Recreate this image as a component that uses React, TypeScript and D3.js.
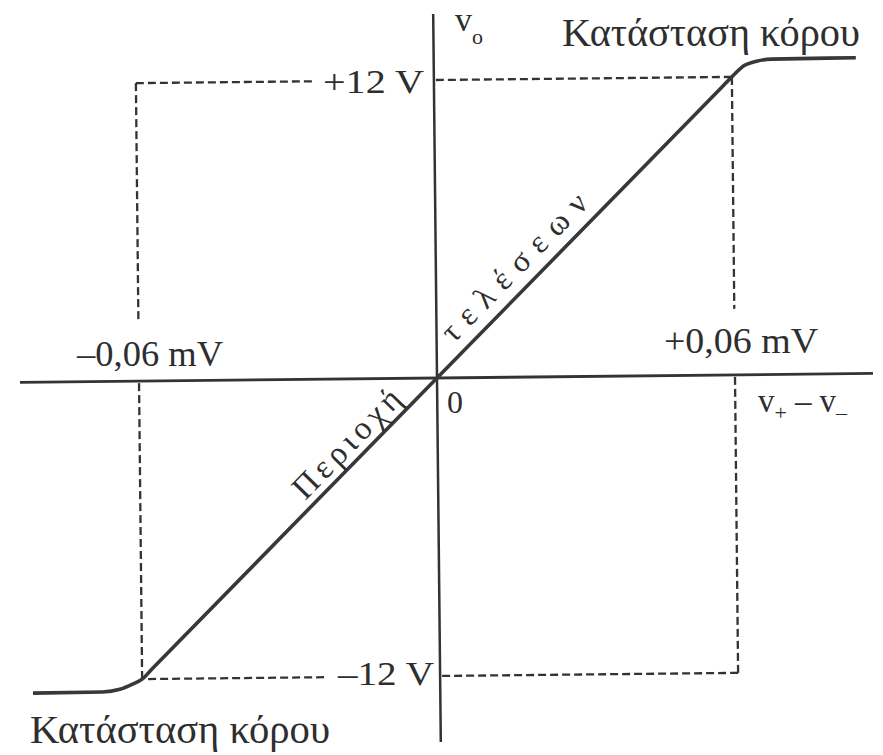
import React from "react";
import * as d3 from "d3";

// Op-amp transfer characteristic: output voltage vs differential input
const VIN_MV = [-0.082, -0.068, -0.0645, -0.062, -0.06, -0.058, 0, 0.058, 0.06, 0.0625, 0.065, 0.068, 0.085];
const VOUT_V = [-12.52, -12.5, -12.4, -12.2, -12, -11.6, 0, 11.6, 12, 12.45, 12.62, 12.7, 12.72];

const VIN_MARKS = [-0.06, 0.06];
const VOUT_MARKS = [-12, 12];
const VIN_LABELS = ["–0,06 mV", "+0,06 mV"];
const VOUT_LABELS = ["–12 V", "+12 V"];
const SAT_LABEL = "Κατάσταση κόρου";
const REGION_WORDS = ["Περιοχή", "τελέσεων"];

const W = 883;
const H = 755;
const OX = 437;
const OY = 378;
const TILT = -0.6;
const FONT = "'Liberation Serif', 'DejaVu Serif', serif";
const INK = "#2e2e2e";

export default function App() {
  const x = d3.scaleLinear().domain([-0.06, 0.06]).range([OX - 298, OX + 298]);
  const y = d3.scaleLinear().domain([-12, 12]).range([OY + 298, OY - 298]);

  const pts: [number, number][] = VIN_MV.map((v, i) => [v, VOUT_V[i]]);
  const path = d3
    .line<[number, number]>()
    .x((d) => x(d[0]))
    .y((d) => y(d[1]))
    .curve(d3.curveMonotoneX)(pts) as string;

  // direction of the linear region, used to lay the region words along it
  const dx = x(0.06) - x(0);
  const dy = y(12) - y(0);
  const len = Math.hypot(dx, dy);
  const ux = dx / len;
  const uy = dy / len;
  const nx = uy;
  const ny = -ux;
  const angle = (Math.atan2(dy, dx) * 180) / Math.PI;

  const upStart = { x: x(0) + 36 * ux + 12 * nx, y: y(0) + 36 * uy + 12 * ny };
  const lowEnd = { x: x(0) - 40 * ux + 8 * nx, y: y(0) - 40 * uy + 8 * ny };

  const dash = { stroke: "#333", strokeWidth: 2.3, strokeDasharray: "8,4", fill: "none" };
  const xl = x(VIN_MARKS[0]);
  const xr = x(VIN_MARKS[1]);
  const yb = y(VOUT_MARKS[0]);
  const yt = y(VOUT_MARKS[1]);

  return (
    <svg
      width={W}
      height={H}
      viewBox={`0 0 ${W} ${H}`}
      style={{ position: "absolute", left: 0, top: 0, background: "#fff" }}
    >
      <g transform={`rotate(${TILT}, ${OX}, ${OY})`}>
        {/* guide lines at the saturation knees */}
        <line x1={xl} y1={yt} x2={OX - 120} y2={yt} {...dash} />
        <line x1={OX + 2} y1={yt} x2={xr} y2={yt} {...dash} />
        <line x1={xl + 6} y1={yb} x2={OX - 112} y2={yb} {...dash} />
        <line x1={OX + 2} y1={yb} x2={xr} y2={yb} {...dash} />
        <line x1={xl} y1={yt} x2={xl} y2={OY - 58} {...dash} />
        <line x1={xl} y1={OY + 2} x2={xl} y2={yb} {...dash} />
        <line x1={xr} y1={yt} x2={xr} y2={OY - 66} {...dash} />
        <line x1={xr} y1={OY + 2} x2={xr} y2={yb} {...dash} />

        {/* axes */}
        <line x1={20} y1={OY} x2={873} y2={OY} stroke="#333" strokeWidth={2.8} />
        <line x1={OX} y1={14} x2={OX} y2={742} stroke="#333" strokeWidth={2.5} />

        {/* transfer curve */}
        <path d={path} fill="none" stroke="#383838" strokeWidth={3.6} strokeLinejoin="round" />

        {/* region words along the linear part */}
        <text
          transform={`translate(${lowEnd.x},${lowEnd.y}) rotate(${angle})`}
          textAnchor="end"
          fontFamily={FONT}
          fontSize={33}
          fill={INK}
          textLength={140}
          lengthAdjust="spacing"
        >
          {REGION_WORDS[0]}
        </text>
        <text
          transform={`translate(${upStart.x},${upStart.y}) rotate(${angle})`}
          fontFamily={FONT}
          fontSize={32}
          fill={INK}
          textLength={194}
          lengthAdjust="spacing"
        >
          {REGION_WORDS[1]}
        </text>
      </g>

      {/* labels */}
      <g fontFamily={FONT} fill={INK}>
        <text x={562} y={46} fontSize={39} textLength={298} lengthAdjust="spacingAndGlyphs">
          {SAT_LABEL}
        </text>
        <text x={30} y={743} fontSize={39} textLength={300} lengthAdjust="spacingAndGlyphs">
          {SAT_LABEL}
        </text>
        <text x={455} y={31} fontSize={34}>
          v
          <tspan dy={13} fontSize={22}>
            o
          </tspan>
        </text>
        <text x={323} y={93} fontSize={34} textLength={101} lengthAdjust="spacingAndGlyphs">
          {VOUT_LABELS[1]}
        </text>
        <text x={338} y={685} fontSize={34} textLength={96} lengthAdjust="spacingAndGlyphs">
          {VOUT_LABELS[0]}
        </text>
        <text x={77} y={366} fontSize={36} textLength={146} lengthAdjust="spacingAndGlyphs">
          {VIN_LABELS[0]}
        </text>
        <text x={664} y={353} fontSize={36} textLength={154} lengthAdjust="spacingAndGlyphs">
          {VIN_LABELS[1]}
        </text>
        <text x={447} y={413} fontSize={32}>
          0
        </text>
        <text x={758} y={412} fontSize={33}>
          v
          <tspan dy={8} fontSize={22}>
            +
          </tspan>
          <tspan dy={-8} dx={8}>
            –
          </tspan>
          <tspan dx={8}>v</tspan>
          <tspan dy={8} fontSize={22}>
            –
          </tspan>
        </text>
      </g>
    </svg>
  );
}
